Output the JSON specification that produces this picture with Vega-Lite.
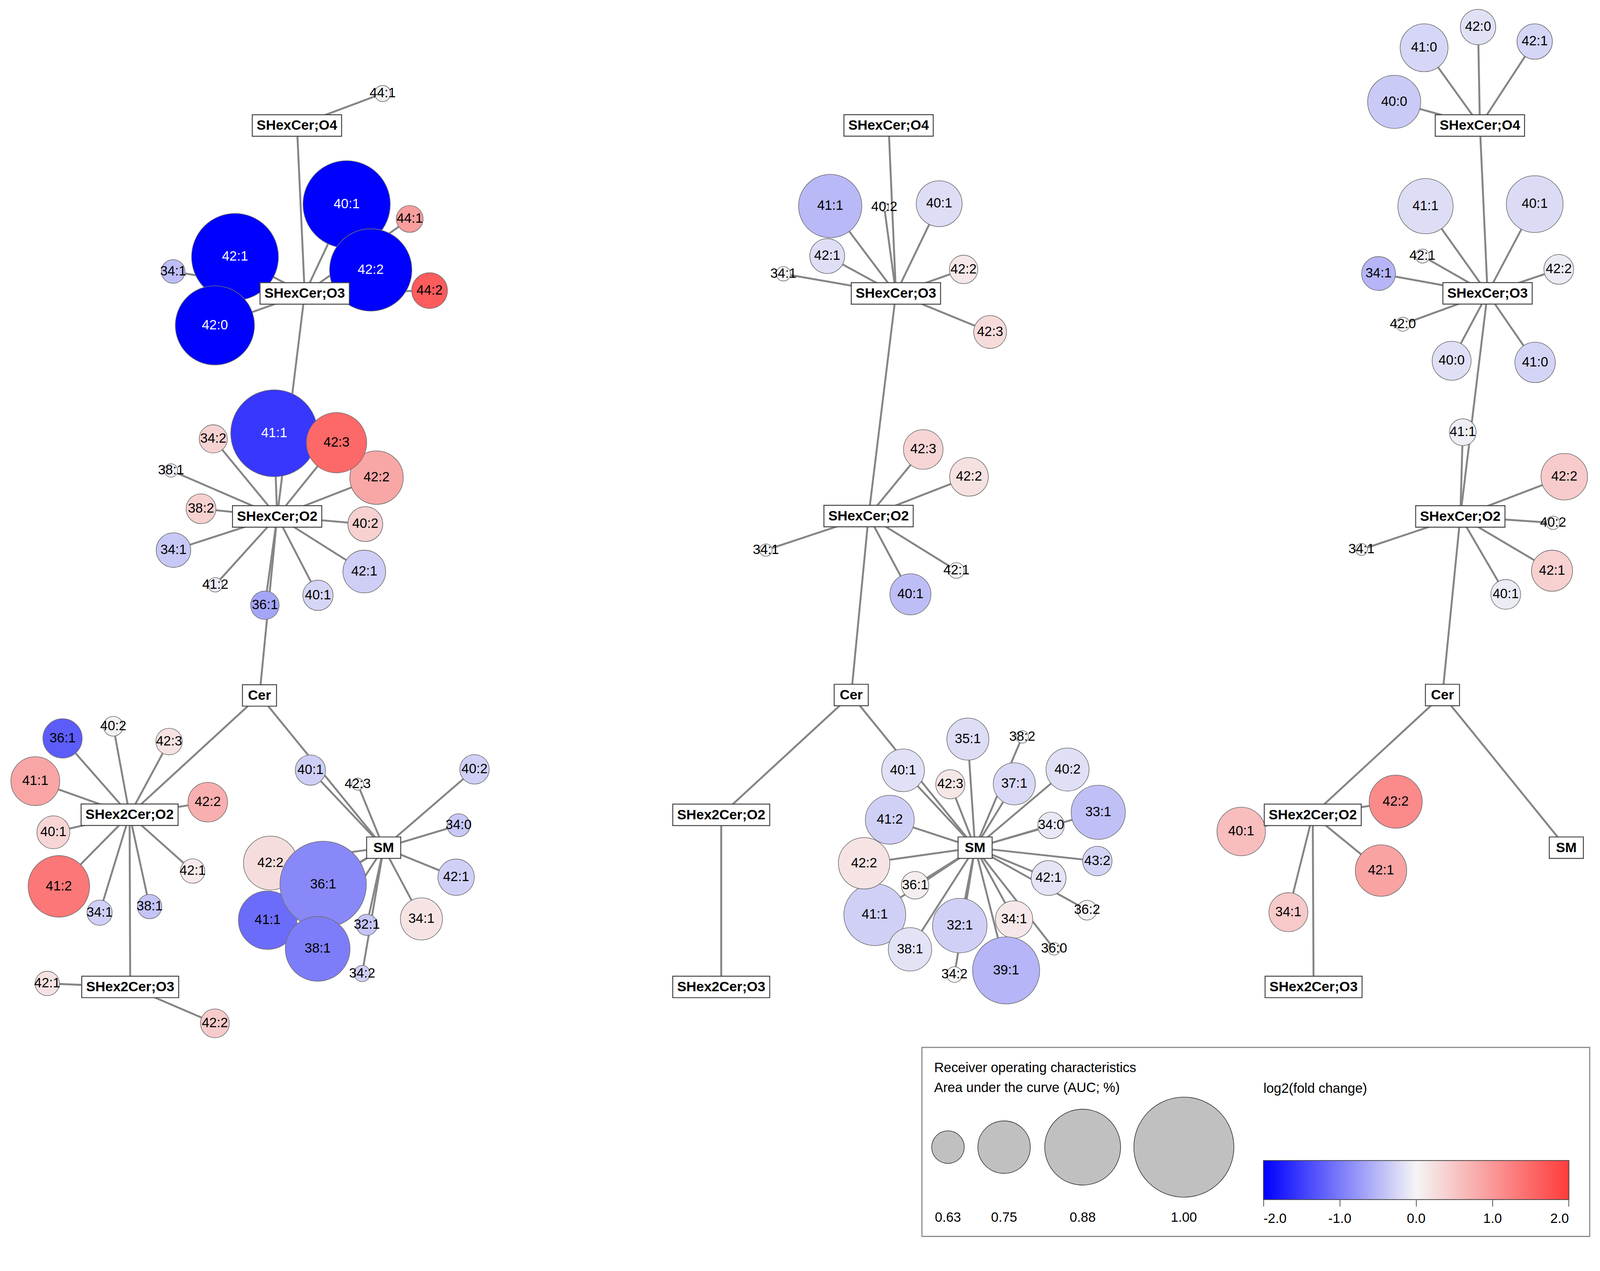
{
"$schema": "https://vega.github.io/schema/vega-lite/v6.json",
"width": 4096, "height": 3192,
"autosize": {"type": "none"},
"padding": 0,
"background": "white",
"config": {"view": {"stroke": null}, "text": {"font": "Liberation Sans"}},
"datasets": {
"nodes": [
{"id":"1O4","lab":"SHexCer;O4","x":291,"y":123,"par":"1O3","kind":"cl","ct":"a"},
{"id":"1O3","lab":"SHexCer;O3","x":298.6,"y":287.5,"par":"1O2","kind":"cl","ct":"a"},
{"id":"1O2","lab":"SHexCer;O2","x":271.6,"y":506,"par":"1Cer","kind":"cl","ct":"a"},
{"id":"1Cer","lab":"Cer","x":254.3,"y":681.4,"kind":"cl","ct":"c"},
{"id":"1D2","lab":"SHex2Cer;O2","x":127,"y":798.3,"par":"1Cer","kind":"cl","ct":"b"},
{"id":"1D3","lab":"SHex2Cer;O3","x":127.6,"y":967,"par":"1D2","kind":"cl","ct":"b"},
{"id":"1SM","lab":"SM","x":376,"y":830.6,"par":"1Cer","kind":"cl","ct":"c"},
{"lab":"44:1","x":375,"y":91.6,"par":"1O4","kind":"sp","auc":0.535,"fc":-0.05},
{"lab":"34:1","x":169.7,"y":266,"par":"1O3","kind":"sp","auc":0.576,"fc":-0.45},
{"lab":"40:1","x":339.7,"y":200.2,"par":"1O3","kind":"sp","auc":0.938,"fc":-2.0},
{"lab":"42:1","x":230.3,"y":251.7,"par":"1O3","kind":"sp","auc":0.936,"fc":-2.0},
{"lab":"42:0","x":210.6,"y":318.8,"par":"1O3","kind":"sp","auc":0.897,"fc":-2.0},
{"lab":"42:2","x":363.3,"y":264.5,"par":"1O3","kind":"sp","auc":0.913,"fc":-2.0},
{"lab":"44:1","x":401.5,"y":214.5,"par":"1O3","kind":"sp","auc":0.595,"fc":0.95},
{"lab":"44:2","x":421,"y":284.7,"par":"1O3","kind":"sp","auc":0.649,"fc":1.65},
{"lab":"41:1","x":268.7,"y":424.5,"par":"1O2","kind":"sp","auc":0.936,"fc":-1.55},
{"lab":"42:2","x":369,"y":468,"par":"1O2","kind":"sp","auc":0.756,"fc":0.85},
{"lab":"42:3","x":329.8,"y":433.8,"par":"1O2","kind":"sp","auc":0.795,"fc":1.52},
{"lab":"34:2","x":209,"y":430,"par":"1O2","kind":"sp","auc":0.603,"fc":0.38},
{"lab":"38:1","x":167.6,"y":461,"par":"1O2","kind":"sp","auc":0.522,"fc":-0.05},
{"lab":"38:2","x":197,"y":498.5,"par":"1O2","kind":"sp","auc":0.613,"fc":0.4},
{"lab":"40:2","x":358,"y":513.5,"par":"1O2","kind":"sp","auc":0.644,"fc":0.4},
{"lab":"34:1","x":170,"y":539,"par":"1O2","kind":"sp","auc":0.642,"fc":-0.37},
{"lab":"42:1","x":357,"y":560,"par":"1O2","kind":"sp","auc":0.692,"fc":-0.32},
{"lab":"41:2","x":211,"y":573,"par":"1O2","kind":"sp","auc":0.527,"fc":-0.07},
{"lab":"40:1","x":311.6,"y":583.3,"par":"1O2","kind":"sp","auc":0.616,"fc":-0.26},
{"lab":"36:1","x":259.6,"y":593,"par":"1O2","kind":"sp","auc":0.605,"fc":-0.65},
{"lab":"36:1","x":61.3,"y":723.5,"par":"1D2","kind":"sp","auc":0.671,"fc":-1.25},
{"lab":"40:2","x":111,"y":711.6,"par":"1D2","kind":"sp","auc":0.554,"fc":0.03},
{"lab":"42:3","x":165.7,"y":726.6,"par":"1D2","kind":"sp","auc":0.593,"fc":0.2},
{"lab":"41:1","x":34.6,"y":765.4,"par":"1D2","kind":"sp","auc":0.729,"fc":0.86},
{"lab":"42:2","x":203.6,"y":786,"par":"1D2","kind":"sp","auc":0.673,"fc":0.75},
{"lab":"40:1","x":52.3,"y":815.5,"par":"1D2","kind":"sp","auc":0.632,"fc":0.34},
{"lab":"41:2","x":57.7,"y":868.5,"par":"1D2","kind":"sp","auc":0.802,"fc":1.35},
{"lab":"42:1","x":188.8,"y":853.5,"par":"1D2","kind":"sp","auc":0.58,"fc":0.12},
{"lab":"34:1","x":97.6,"y":894.3,"par":"1D2","kind":"sp","auc":0.585,"fc":-0.3},
{"lab":"38:1","x":146.6,"y":888.3,"par":"1D2","kind":"sp","auc":0.58,"fc":-0.4},
{"lab":"42:1","x":46.3,"y":963.6,"par":"1D3","kind":"sp","auc":0.58,"fc":0.2},
{"lab":"42:2","x":210.6,"y":1002.7,"par":"1D3","kind":"sp","auc":0.607,"fc":0.45},
{"lab":"40:1","x":304.2,"y":754.6,"par":"1SM","kind":"sp","auc":0.616,"fc":-0.32},
{"lab":"42:3","x":350.5,"y":768.3,"par":"1SM","kind":"sp","auc":0.516,"fc":0.0},
{"lab":"40:2","x":465,"y":753.8,"par":"1SM","kind":"sp","auc":0.611,"fc":-0.3},
{"lab":"34:0","x":449.4,"y":808.6,"par":"1SM","kind":"sp","auc":0.572,"fc":-0.37},
{"lab":"42:1","x":447,"y":859.5,"par":"1SM","kind":"sp","auc":0.653,"fc":-0.3},
{"lab":"34:1","x":413,"y":900.4,"par":"1SM","kind":"sp","auc":0.688,"fc":0.18},
{"lab":"42:2","x":265,"y":845.6,"par":"1SM","kind":"sp","auc":0.758,"fc":0.26},
{"lab":"41:1","x":262.3,"y":901.6,"par":"1SM","kind":"sp","auc":0.785,"fc":-1.12},
{"lab":"36:1","x":316.7,"y":866.6,"par":"1SM","kind":"sp","auc":0.934,"fc":-0.89},
{"lab":"38:1","x":311.3,"y":929.7,"par":"1SM","kind":"sp","auc":0.82,"fc":-0.98},
{"lab":"32:1","x":359.5,"y":906.2,"par":"1SM","kind":"sp","auc":0.562,"fc":-0.4},
{"lab":"34:2","x":354.9,"y":953.9,"par":"1SM","kind":"sp","auc":0.535,"fc":-0.3},

{"id":"2O4","lab":"SHexCer;O4","x":870.8,"y":122.9,"par":"2O3","kind":"cl","ct":"a"},
{"id":"2O3","lab":"SHexCer;O3","x":878,"y":287.5,"par":"2O2","kind":"cl","ct":"a"},
{"id":"2O2","lab":"SHexCer;O2","x":851.2,"y":505.6,"par":"2Cer","kind":"cl","ct":"a"},
{"id":"2Cer","lab":"Cer","x":834.2,"y":681,"kind":"cl","ct":"c"},
{"id":"2D2","lab":"SHex2Cer;O2","x":706.8,"y":798.4,"par":"2Cer","kind":"cl","ct":"b"},
{"id":"2D3","lab":"SHex2Cer;O3","x":706.8,"y":967,"par":"2D2","kind":"cl","ct":"b"},
{"id":"2SM","lab":"SM","x":955.6,"y":830.6,"par":"2Cer","kind":"cl","ct":"c"},
{"lab":"41:1","x":813.6,"y":201.9,"par":"2O3","kind":"sp","auc":0.812,"fc":-0.49},
{"lab":"40:2","x":866.6,"y":203,"par":"2O3","kind":"sp","auc":0.504,"fc":0.0},
{"lab":"40:1","x":920.4,"y":199.6,"par":"2O3","kind":"sp","auc":0.711,"fc":-0.2},
{"lab":"42:1","x":810.7,"y":250.9,"par":"2O3","kind":"sp","auc":0.644,"fc":-0.19},
{"lab":"34:1","x":767.7,"y":268.3,"par":"2O3","kind":"sp","auc":0.527,"fc":0.02},
{"lab":"42:2","x":944.3,"y":264,"par":"2O3","kind":"sp","auc":0.605,"fc":0.14},
{"lab":"42:3","x":970.3,"y":325.3,"par":"2O3","kind":"sp","auc":0.632,"fc":0.28},
{"lab":"42:3","x":904.8,"y":440.4,"par":"2O2","kind":"sp","auc":0.673,"fc":0.34},
{"lab":"42:2","x":949.6,"y":467.2,"par":"2O2","kind":"sp","auc":0.667,"fc":0.22},
{"lab":"34:1","x":750.6,"y":539,"par":"2O2","kind":"sp","auc":0.518,"fc":0.0},
{"lab":"42:1","x":937.3,"y":559,"par":"2O2","kind":"sp","auc":0.533,"fc":0.0},
{"lab":"40:1","x":892.2,"y":582.3,"par":"2O2","kind":"sp","auc":0.682,"fc":-0.45},
{"lab":"40:1","x":885,"y":754.8,"par":"2SM","kind":"sp","auc":0.692,"fc":-0.17},
{"lab":"35:1","x":948.5,"y":724.2,"par":"2SM","kind":"sp","auc":0.688,"fc":-0.2},
{"lab":"38:2","x":1001.8,"y":722,"par":"2SM","kind":"sp","auc":0.518,"fc":0.0},
{"lab":"42:3","x":931.3,"y":768.5,"par":"2SM","kind":"sp","auc":0.609,"fc":0.15},
{"lab":"37:1","x":994,"y":768,"par":"2SM","kind":"sp","auc":0.688,"fc":-0.23},
{"lab":"40:2","x":1046.2,"y":754,"par":"2SM","kind":"sp","auc":0.694,"fc":-0.18},
{"lab":"33:1","x":1076.3,"y":795.9,"par":"2SM","kind":"sp","auc":0.76,"fc":-0.43},
{"lab":"34:0","x":1030,"y":808.7,"par":"2SM","kind":"sp","auc":0.593,"fc":-0.1},
{"lab":"43:2","x":1075.4,"y":843.7,"par":"2SM","kind":"sp","auc":0.611,"fc":-0.28},
{"lab":"41:2","x":872,"y":803.2,"par":"2SM","kind":"sp","auc":0.729,"fc":-0.3},
{"lab":"41:1","x":857.3,"y":896.2,"par":"2SM","kind":"sp","auc":0.804,"fc":-0.3},
{"lab":"42:2","x":846.8,"y":845.9,"par":"2SM","kind":"sp","auc":0.744,"fc":0.18},
{"lab":"36:1","x":896.8,"y":867.4,"par":"2SM","kind":"sp","auc":0.599,"fc":0.08},
{"lab":"42:1","x":1027.6,"y":860.3,"par":"2SM","kind":"sp","auc":0.644,"fc":-0.14},
{"lab":"36:2","x":1065.3,"y":891.8,"par":"2SM","kind":"sp","auc":0.554,"fc":0.02},
{"lab":"38:1","x":891.8,"y":930.2,"par":"2SM","kind":"sp","auc":0.696,"fc":-0.15},
{"lab":"32:1","x":940.6,"y":906.9,"par":"2SM","kind":"sp","auc":0.762,"fc":-0.3},
{"lab":"34:1","x":993.8,"y":900.9,"par":"2SM","kind":"sp","auc":0.659,"fc":0.14},
{"lab":"36:0","x":1033,"y":929.7,"par":"2SM","kind":"sp","auc":0.518,"fc":0.0},
{"lab":"34:2","x":935.4,"y":954.9,"par":"2SM","kind":"sp","auc":0.533,"fc":0.0},
{"lab":"39:1","x":986,"y":950.8,"par":"2SM","kind":"sp","auc":0.833,"fc":-0.52},

{"id":"3O4","lab":"SHexCer;O4","x":1450.3,"y":123,"par":"3O3","kind":"cl","ct":"a"},
{"id":"3O3","lab":"SHexCer;O3","x":1457.8,"y":287.4,"par":"3O2","kind":"cl","ct":"a"},
{"id":"3O2","lab":"SHexCer;O2","x":1431.1,"y":506,"par":"3Cer","kind":"cl","ct":"a"},
{"id":"3Cer","lab":"Cer","x":1413.6,"y":681,"kind":"cl","ct":"c"},
{"id":"3D2","lab":"SHex2Cer;O2","x":1286.5,"y":798.4,"par":"3Cer","kind":"cl","ct":"b"},
{"id":"3D3","lab":"SHex2Cer;O3","x":1287.3,"y":967,"par":"3D2","kind":"cl","ct":"b"},
{"id":"3SM","lab":"SM","x":1535,"y":830.6,"par":"3Cer","kind":"cl","ct":"c"},
{"lab":"42:0","x":1448.5,"y":26.5,"par":"3O4","kind":"sp","auc":0.647,"fc":-0.16},
{"lab":"41:0","x":1395.6,"y":46.8,"par":"3O4","kind":"sp","auc":0.723,"fc":-0.25},
{"lab":"42:1","x":1504,"y":40.7,"par":"3O4","kind":"sp","auc":0.647,"fc":-0.26},
{"lab":"40:0","x":1366.3,"y":99.8,"par":"3O4","kind":"sp","auc":0.754,"fc":-0.35},
{"lab":"41:1","x":1397,"y":202,"par":"3O3","kind":"sp","auc":0.766,"fc":-0.2},
{"lab":"40:1","x":1504,"y":200,"par":"3O3","kind":"sp","auc":0.775,"fc":-0.21},
{"lab":"42:1","x":1394,"y":250.9,"par":"3O3","kind":"sp","auc":0.525,"fc":-0.03},
{"lab":"34:1","x":1351,"y":268,"par":"3O3","kind":"sp","auc":0.638,"fc":-0.52},
{"lab":"42:2","x":1527.6,"y":263.9,"par":"3O3","kind":"sp","auc":0.613,"fc":-0.08},
{"lab":"42:0","x":1374.8,"y":317.7,"par":"3O3","kind":"sp","auc":0.525,"fc":0.0},
{"lab":"40:0","x":1422.6,"y":353.5,"par":"3O3","kind":"sp","auc":0.669,"fc":-0.18},
{"lab":"41:0","x":1504.4,"y":355.1,"par":"3O3","kind":"sp","auc":0.678,"fc":-0.27},
{"lab":"41:1","x":1433.5,"y":423.5,"par":"3O2","kind":"sp","auc":0.595,"fc":-0.06},
{"lab":"42:2","x":1533,"y":467.1,"par":"3O2","kind":"sp","auc":0.715,"fc":0.45},
{"lab":"40:2","x":1522,"y":512.3,"par":"3O2","kind":"sp","auc":0.522,"fc":0.0},
{"lab":"34:1","x":1334.3,"y":538.4,"par":"3O2","kind":"sp","auc":0.516,"fc":0.0},
{"lab":"42:1","x":1521,"y":559.2,"par":"3O2","kind":"sp","auc":0.682,"fc":0.4},
{"lab":"40:1","x":1475.6,"y":582.4,"par":"3O2","kind":"sp","auc":0.613,"fc":-0.07},
{"lab":"42:2","x":1367.8,"y":785.5,"par":"3D2","kind":"sp","auc":0.754,"fc":1.15},
{"lab":"40:1","x":1216.4,"y":814.7,"par":"3D2","kind":"sp","auc":0.727,"fc":0.6},
{"lab":"42:1","x":1353.4,"y":853,"par":"3D2","kind":"sp","auc":0.744,"fc":0.88},
{"lab":"34:1","x":1262.6,"y":893.8,"par":"3D2","kind":"sp","auc":0.669,"fc":0.47}
],
"legendsize": [
{"auc":0.63,"x":929,"y":1124},
{"auc":0.75,"x":984,"y":1124},
{"auc":0.88,"x":1061,"y":1124},
{"auc":1.0,"x":1160.2,"y":1124}
],
"legendbox": [{"x":903.5,"x2":1557.9,"y":1026.3,"y2":1211.5}],
"legendticks": [
{"v":-2,"x":1238.4,"y":1175.8,"y2":1182.2},
{"v":-1,"x":1313.2,"y":1175.8,"y2":1182.2},
{"v":0,"x":1388.0,"y":1175.8,"y2":1182.2},
{"v":1,"x":1462.8,"y":1175.8,"y2":1182.2},
{"v":2,"x":1537.4,"y":1175.8,"y2":1182.2}
],
"legendtext": [
{"x":915.5,"y":1046.6,"t":"Receiver operating characteristics"},
{"x":915.5,"y":1066,"t":"Area under the curve (AUC; %)"}
]
},
"encoding": {
"x": {"field":"x","type":"quantitative","scale":{"domain":[0,1568],"nice":false,"zero":false},"axis":null},
"y": {"field":"y","type":"quantitative","scale":{"domain":[0,1222],"nice":false,"zero":false,"reverse":true},"axis":null}
},
"layer": [
{"data":{"name":"legendbox"},
 "mark":{"type":"rect","fill":"white","stroke":"#8a8a8a","strokeWidth":2.9},
 "encoding":{"x2":{"field":"x2"},"y2":{"field":"y2"}}},
{"data":{"name":"legendticks"},
 "mark":{"type":"rule","stroke":"#555555","strokeWidth":2},
 "encoding":{"y2":{"field":"y2"}}},
{"data":{"name":"nodes"},
 "transform":[{"filter":"datum.par != null"},{"lookup":"par","from":{"data":{"name":"nodes"},"key":"id","fields":["x","y"]},"as":["px","py"]}],
 "mark":{"type":"rule","stroke":"#858585","strokeWidth":4.9},
 "encoding":{"x2":{"field":"px"},"y2":{"field":"py"}}},
{"data":{"name":"nodes"},
 "transform":[{"filter":"datum.kind == 'sp'"}],
 "mark":{"type":"point","shape":"circle","filled":true,"opacity":1,"stroke":"#6e6e6e","strokeWidth":1.57},
 "encoding":{
  "size":{"field":"auc","type":"quantitative","scale":{"type":"pow","exponent":4,"domain":[0.5,1],"range":[351.5,65598],"clamp":true},"legend":null},
  "fill":{"field":"fc","type":"quantitative",
   "scale":{"domain":[-2,0,2],"range":["#0000ff","#f5f5f5","#ff3b3b"],"interpolate":"rgb","clamp":true},
   "legend":{"orient":"none","legendX":3234.4,"legendY":2770,"direction":"horizontal","title":"log2(fold change)",
     "titleFontSize":34.35,"titleFont":"Liberation Sans","titleFontWeight":"normal","titleColor":"#000","titlePadding":165.8,"titleAnchor":"start","titleLimit":2000,
     "gradientLength":782,"gradientThickness":100,"gradientStrokeColor":"#444","gradientStrokeWidth":1.96,
     "values":[-2,-1,0,1,2],"labelExpr":"replace(format(datum.value, '.1f'), '\u2212', '-')",
     "labelFontSize":34.35,"labelFont":"Liberation Sans","labelColor":"#000","labelOffset":32.4,"labelAlign":"center","labelOverlap":false,"labelLimit":500,"padding":0}}}},
{"data":{"name":"nodes"},
 "transform":[{"filter":"datum.kind == 'sp'"}],
 "mark":{"type":"text","fontSize":34.35,"font":"Liberation Sans","align":"center","baseline":"middle"},
 "encoding":{"text":{"field":"lab"},"color":{"condition":{"test":"datum.fc < -1.4","value":"white"},"value":"black"}}},
{"data":{"name":"legendsize"},
 "mark":{"type":"point","shape":"circle","filled":true,"opacity":1,"fill":"#c0c0c0","stroke":"#333333","strokeWidth":1.57},
 "encoding":{"size":{"field":"auc","type":"quantitative","legend":null}}},
{"data":{"name":"legendsize"},
 "mark":{"type":"text","fontSize":34.35,"font":"Liberation Sans","dy":180.6,"align":"center","baseline":"middle","color":"black"},
 "encoding":{"text":{"field":"auc","type":"quantitative","format":".2f"}}},
{"data":{"name":"nodes"},
 "transform":[{"filter":"datum.kind == 'cl'"}],
 "mark":{"type":"point","filled":true,"fill":"white","opacity":1,"stroke":"#444444","strokeWidth":2.45,"size":65097},
 "encoding":{"shape":{"field":"ct","type":"nominal","legend":null,
   "scale":{"domain":["a","b","c"],"range":["M-0.896,-0.2154L0.896,-0.2154L0.896,0.2154L-0.896,0.2154Z","M-0.973,-0.2154L0.973,-0.2154L0.973,0.2154L-0.973,0.2154Z","M-0.342,-0.2154L0.342,-0.2154L0.342,0.2154L-0.342,0.2154Z"]}}}},
{"data":{"name":"nodes"},
 "transform":[{"filter":"datum.kind == 'cl'"}],
 "mark":{"type":"text","fontSize":35.33,"fontWeight":"bold","font":"Liberation Sans","align":"center","baseline":"middle","color":"black"},
 "encoding":{"text":{"field":"lab"}}},
{"data":{"name":"legendtext"},
 "mark":{"type":"text","fontSize":34.35,"font":"Liberation Sans","align":"left","baseline":"middle","color":"black"},
 "encoding":{"text":{"field":"t"}}}
]
}
